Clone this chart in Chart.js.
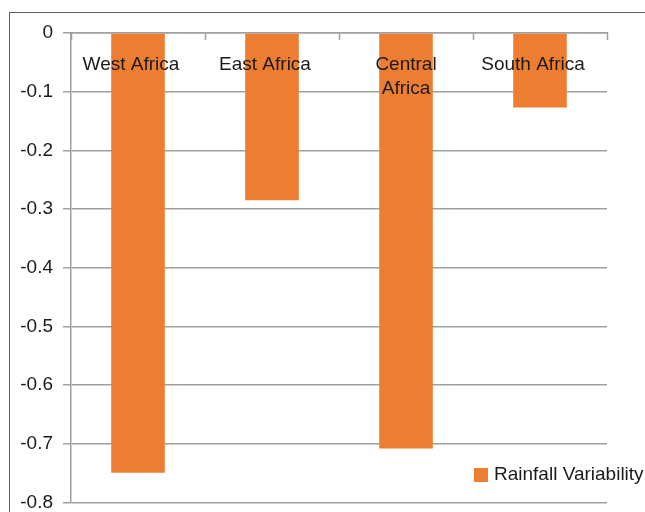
<!DOCTYPE html>
<html>
<head>
<meta charset="utf-8">
<script src="https://cdn.jsdelivr.net/npm/chart.js@4/dist/chart.umd.min.js"></script>
<style>
  html, body { margin: 0; padding: 0; background: #fff; overflow: hidden; }
  #wrap { position: relative; width: 645px; height: 512px; overflow: hidden; }
  #frame {
    position: absolute; left: 9px; top: 12px; width: 700px; height: 600px;
    border-left: 1px solid #5f5f5f; border-top: 1px solid #5f5f5f;
  }
  #wrap canvas { position: absolute; left: 0; top: 0; }
</style>
</head>
<body>
<div id="wrap">
  <div id="frame"></div>
  <canvas id="rainfall" width="645" height="524"></canvas>
</div>
<script>
// regions and rainfall variability values
const regions = ['West Africa', 'East Africa', ['Central', 'Africa'], 'South Africa'];
const variability = [-0.749, -0.285, -0.708, -0.127];
const seriesName = 'Rainfall Variability';
const yTicks = [0, -0.1, -0.2, -0.3, -0.4, -0.5, -0.6, -0.7, -0.8];

const orange = '#ED7D31';
const gridGray = '#a0a0a0';
const textColor = '#1a1a1a';
const fontFamily = "'Liberation Sans', Arial, sans-serif";
const fontSize = 19;

// category labels sit under the zero line, inner tick marks, legend box
const excelLook = {
    id: 'excelLook',
    afterDatasetsDraw(chart) {
        const ctx = chart.ctx;
        const x = chart.scales.x;
        const y = chart.scales.y;
        const zero = y.getPixelForValue(0);
        const n = regions.length;
        const step = (x.right - x.left) / n;

        ctx.save();
        ctx.strokeStyle = gridGray;
        ctx.lineWidth = 1.5;
        for (let i = 0; i <= n; i++) {
            const px = Math.round(x.left + i * step) + 0.5;
            ctx.beginPath();
            ctx.moveTo(px, zero);
            ctx.lineTo(px, zero + 7);
            ctx.stroke();
        }

        ctx.fillStyle = textColor;
        ctx.font = fontSize + 'px ' + fontFamily;
        ctx.textAlign = 'center';
        ctx.textBaseline = 'middle';
        regions.forEach((lab, i) => {
            const wrapped = Array.isArray(lab);
            const cx = x.getPixelForValue(i) + (wrapped ? 0 : -7);
            const lines = wrapped ? lab : [lab];
            lines.forEach((t, j) => ctx.fillText(t, cx, zero + 32 + j * 24));
        });

        // legend
        const lx = 474, ly = 468;
        ctx.fillStyle = orange;
        ctx.fillRect(lx, ly, 14, 14);
        ctx.fillStyle = textColor;
        ctx.textAlign = 'left';
        ctx.fillText(chart.data.datasets[0].label, lx + 20, ly + 7);
        ctx.restore();
    }
};

new Chart(document.getElementById('rainfall'), {
    type: 'bar',
    data: {
        labels: regions,
        datasets: [{
            label: seriesName,
            data: variability,
            backgroundColor: orange,
            borderWidth: 0,
            categoryPercentage: 0.4,
            barPercentage: 1.0
        }]
    },
    options: {
        responsive: false,
        animation: false,
        layout: { padding: { top: 0, right: 38, bottom: 0, left: 0 } },
        plugins: {
            legend: { display: false },
            tooltip: { enabled: false }
        },
        scales: {
            x: {
                position: 'top',
                ticks: { display: false },
                grid: { display: false },
                border: { display: true, color: gridGray, width: 1.5 },
                afterFit(scale) { scale.height = 33; }
            },
            y: {
                min: -0.8,
                max: 0,
                afterBuildTicks(scale) {
                    scale.ticks = yTicks.map(v => ({ value: v }));
                },
                ticks: {
                    color: textColor,
                    font: { family: fontFamily, size: fontSize },
                    padding: 10,
                    callback: v => (Math.abs(v) < 1e-9 ? '0' : v.toFixed(1))
                },
                grid: {
                    color: gridGray,
                    lineWidth: 1.5,
                    tickLength: 8,
                    drawTicks: true
                },
                border: { display: true, color: gridGray, width: 1.5 },
                afterFit(scale) { scale.width = 71; }
            }
        }
    },
    plugins: [excelLook]
});
</script>
</body>
</html>
